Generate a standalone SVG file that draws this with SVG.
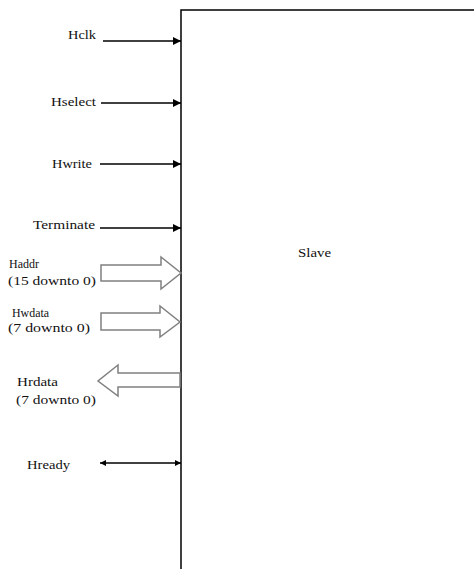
<svg xmlns="http://www.w3.org/2000/svg" width="474" height="569" viewBox="0 0 474 569">
<style>
.lbl{font-family:"Liberation Serif","Times New Roman",serif;font-size:13.5px;fill:#111}
.r{text-anchor:end}
.wire{stroke:#000;stroke-width:1.3;fill:none}
.bus{stroke:#808080;stroke-width:1.5;fill:#fff;stroke-linejoin:miter}
</style>
<defs>
<marker id="ah" viewBox="0 0 10 10" refX="10" refY="5" markerWidth="8" markerHeight="8" markerUnits="userSpaceOnUse" orient="auto">
<path d="M0,0 L10,5 L0,10 z" fill="#000"/>
</marker>
<marker id="ahs" viewBox="0 0 10 10" refX="10" refY="5" markerWidth="6" markerHeight="7" markerUnits="userSpaceOnUse" orient="auto-start-reverse">
<path d="M0,0 L10,5 L0,10 z" fill="#000"/>
</marker>
</defs>
<rect width="474" height="569" fill="#fff"/>
<g id="slave">
<rect x="181" y="10" width="400" height="600" fill="none" stroke="#000" stroke-width="1.5"/>
<text class="lbl" x="298" y="257" font-size="11.5" textLength="33" lengthAdjust="spacingAndGlyphs">Slave</text>
</g>
<g id="labels">
<g id="hclk"><text class="lbl r" x="96" y="39" textLength="28" lengthAdjust="spacingAndGlyphs">Hclk</text></g>
<g id="hselect"><text class="lbl r" x="96" y="106" textLength="45" lengthAdjust="spacingAndGlyphs">Hselect</text></g>
<g id="hwrite"><text class="lbl r" x="92" y="168" textLength="40" lengthAdjust="spacingAndGlyphs">Hwrite</text></g>
<g id="terminate"><text class="lbl r" x="95" y="229" textLength="62" lengthAdjust="spacingAndGlyphs">Terminate</text></g>
<g id="haddr"><text class="lbl" x="9" y="268" textLength="30" lengthAdjust="spacingAndGlyphs">Haddr</text><text class="lbl" x="8" y="285" textLength="88" lengthAdjust="spacingAndGlyphs">(15 downto 0)</text></g>
<g id="hwdata"><text class="lbl" x="12" y="317" textLength="37" lengthAdjust="spacingAndGlyphs">Hwdata</text><text class="lbl" x="8" y="332" textLength="82" lengthAdjust="spacingAndGlyphs">(7 downto 0)</text></g>
<g id="hrdata"><text class="lbl" x="17" y="386" textLength="41" lengthAdjust="spacingAndGlyphs">Hrdata</text><text class="lbl" x="16" y="404" textLength="80" lengthAdjust="spacingAndGlyphs">(7 downto 0)</text></g>
<g id="hready"><text class="lbl" x="27" y="469" textLength="43" lengthAdjust="spacingAndGlyphs">Hready</text></g>
</g>
<g id="connectors">
<line class="wire" x1="103" y1="41" x2="181" y2="41" marker-end="url(#ah)"/>
<line class="wire" x1="101" y1="103" x2="181" y2="103" marker-end="url(#ah)"/>
<line class="wire" x1="100" y1="164" x2="181" y2="164" marker-end="url(#ah)"/>
<line class="wire" x1="100" y1="228" x2="181" y2="228" marker-end="url(#ah)"/>
<polygon class="bus" points="101,265 161,265 161,257 181,273 161,289 161,281 101,281"/>
<polygon class="bus" points="101,313 160,313 160,306 180,322 160,337 160,330 101,330"/>
<polygon class="bus" points="180,373 118,373 118,365 98,381 118,396 118,387 180,387"/>
<line class="wire" x1="100" y1="463" x2="181" y2="463" marker-start="url(#ahs)" marker-end="url(#ahs)"/>
</g>
</svg>
